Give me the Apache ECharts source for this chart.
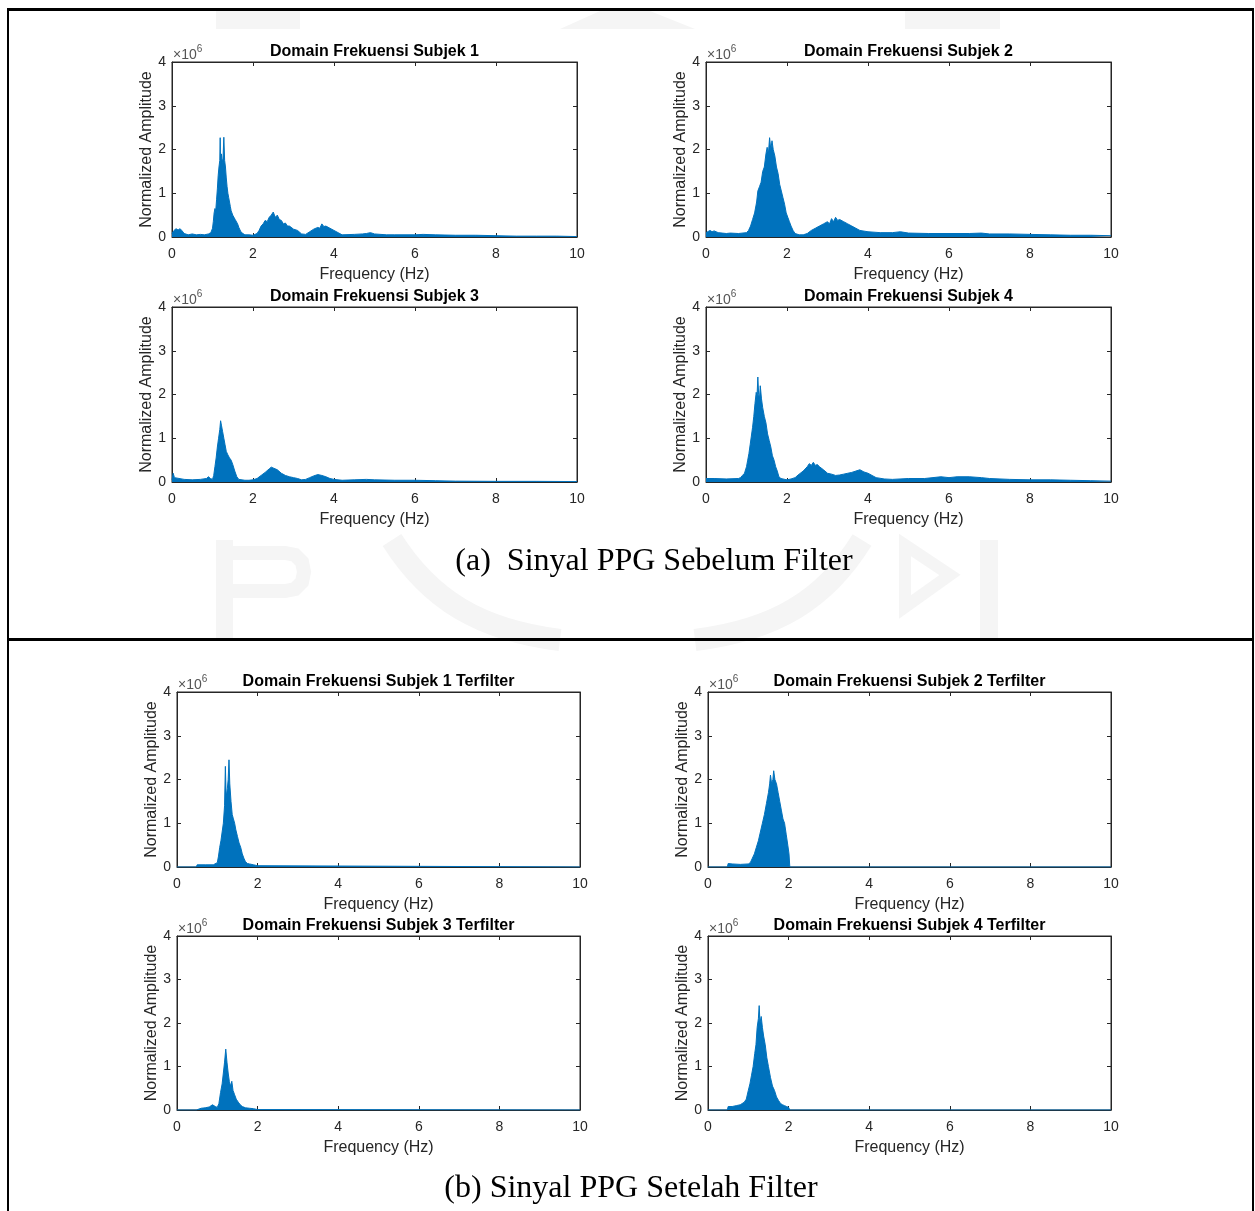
<!DOCTYPE html>
<html><head><meta charset="utf-8">
<script src="https://cdn.jsdelivr.net/npm/echarts@6/dist/echarts.min.js"></script>
<style>html,body{margin:0;padding:0;background:#fff}#c{width:1255px;height:1211px}</style>
</head><body><div id="c"></div>
<script>
// ---- data (frequency Hz, amplitude x1e6) ----
const subj1 = [[0,0.08],[0.05,0.15],[0.1,0.19],[0.15,0.16],[0.2,0.19],[0.25,0.14],[0.3,0.08],[0.4,0.05],[0.5,0.07],[0.6,0.05],[0.7,0.06],[0.8,0.05],[0.9,0.07],[0.96,0.1],[1.0,0.2],[1.02,0.35],[1.04,0.55],[1.06,0.65],[1.08,0.6],[1.1,0.85],[1.12,1.1],[1.14,1.4],[1.16,1.6],[1.18,1.75],[1.19,2.27],[1.2,1.6],[1.22,1.9],[1.24,1.7],[1.26,1.8],[1.28,2.28],[1.3,1.75],[1.32,1.6],[1.34,1.35],[1.36,1.15],[1.38,1.0],[1.4,0.9],[1.42,0.8],[1.44,0.7],[1.46,0.6],[1.48,0.55],[1.5,0.5],[1.53,0.45],[1.56,0.4],[1.59,0.38],[1.62,0.3],[1.65,0.22],[1.7,0.12],[1.75,0.08],[1.8,0.05],[1.9,0.05],[2.0,0.04],[2.1,0.08],[2.15,0.15],[2.2,0.25],[2.25,0.3],[2.3,0.38],[2.35,0.35],[2.4,0.45],[2.45,0.5],[2.5,0.57],[2.55,0.45],[2.6,0.5],[2.65,0.4],[2.7,0.38],[2.75,0.3],[2.8,0.32],[2.85,0.25],[2.9,0.25],[3.0,0.18],[3.1,0.15],[3.2,0.07],[3.3,0.06],[3.4,0.12],[3.5,0.18],[3.6,0.22],[3.65,0.2],[3.7,0.3],[3.75,0.24],[3.8,0.25],[3.9,0.2],[4.0,0.15],[4.1,0.1],[4.2,0.05],[4.5,0.06],[4.7,0.07],[4.8,0.08],[4.9,0.1],[5.0,0.07],[5.3,0.05],[5.5,0.05],[6.0,0.05],[6.2,0.06],[6.5,0.05],[7.0,0.04],[7.5,0.04],[8.0,0.03],[8.5,0.02],[9.0,0.02],[9.5,0.02],[10,0.01]];
const subj2 = [[0,0.1],[0.1,0.15],[0.15,0.12],[0.2,0.14],[0.3,0.1],[0.4,0.09],[0.5,0.08],[0.6,0.09],[0.8,0.08],[1.0,0.1],[1.05,0.15],[1.1,0.25],[1.15,0.4],[1.2,0.55],[1.25,0.8],[1.28,1.05],[1.32,1.15],[1.36,1.25],[1.4,1.5],[1.44,1.6],[1.48,1.9],[1.51,2.05],[1.54,1.9],[1.57,2.27],[1.6,2.0],[1.63,2.2],[1.66,2.0],[1.7,1.85],[1.74,1.6],[1.78,1.45],[1.82,1.2],[1.86,1.05],[1.9,0.9],[1.94,0.75],[1.98,0.55],[2.02,0.45],[2.06,0.35],[2.1,0.25],[2.15,0.15],[2.2,0.08],[2.3,0.05],[2.4,0.05],[2.5,0.08],[2.6,0.15],[2.7,0.2],[2.8,0.25],[2.9,0.3],[3.0,0.35],[3.05,0.3],[3.1,0.42],[3.15,0.35],[3.2,0.45],[3.25,0.38],[3.3,0.4],[3.4,0.35],[3.5,0.3],[3.6,0.25],[3.7,0.2],[3.8,0.15],[4.0,0.12],[4.3,0.1],[4.6,0.1],[4.8,0.12],[5.0,0.09],[5.5,0.08],[6.0,0.08],[6.5,0.08],[6.8,0.09],[7.0,0.07],[7.5,0.07],[8.0,0.06],[8.5,0.05],[9.0,0.04],[9.5,0.04],[10,0.03]];
const subj3 = [[0,0.05],[0.03,0.2],[0.06,0.1],[0.1,0.08],[0.3,0.06],[0.5,0.05],[0.7,0.06],[0.85,0.08],[0.9,0.12],[0.95,0.08],[1.0,0.06],[1.03,0.15],[1.06,0.35],[1.09,0.55],[1.12,0.8],[1.15,1.0],[1.18,1.2],[1.2,1.4],[1.22,1.3],[1.25,1.15],[1.28,1.0],[1.31,0.85],[1.34,0.7],[1.38,0.62],[1.42,0.55],[1.46,0.5],[1.5,0.4],[1.55,0.25],[1.6,0.12],[1.65,0.06],[1.8,0.04],[1.9,0.04],[2.0,0.05],[2.1,0.08],[2.2,0.15],[2.3,0.22],[2.4,0.3],[2.45,0.34],[2.5,0.32],[2.6,0.28],[2.7,0.2],[2.8,0.15],[2.9,0.12],[3.0,0.1],[3.1,0.08],[3.2,0.05],[3.3,0.06],[3.4,0.1],[3.5,0.14],[3.6,0.17],[3.7,0.15],[3.8,0.12],[3.9,0.08],[4.0,0.06],[4.2,0.04],[4.5,0.05],[4.8,0.06],[5.0,0.05],[5.5,0.04],[6.0,0.04],[6.5,0.03],[7.0,0.02],[8.0,0.015],[9.0,0.015],[10,0.01]];
const subj4 = [[0,0.08],[0.2,0.08],[0.5,0.07],[0.8,0.08],[0.85,0.1],[0.9,0.15],[0.95,0.2],[1.0,0.35],[1.03,0.5],[1.06,0.65],[1.09,0.85],[1.12,1.05],[1.15,1.25],[1.18,1.5],[1.21,1.8],[1.24,2.05],[1.26,1.95],[1.28,2.4],[1.3,2.0],[1.32,1.9],[1.34,2.2],[1.37,1.9],[1.4,1.7],[1.44,1.5],[1.48,1.35],[1.52,1.1],[1.56,0.95],[1.6,0.8],[1.64,0.6],[1.68,0.5],[1.72,0.35],[1.76,0.25],[1.8,0.12],[1.85,0.08],[1.9,0.07],[2.0,0.05],[2.1,0.07],[2.2,0.1],[2.3,0.18],[2.4,0.25],[2.5,0.35],[2.55,0.42],[2.6,0.38],[2.65,0.45],[2.7,0.38],[2.75,0.4],[2.8,0.35],[2.9,0.28],[3.0,0.2],[3.1,0.18],[3.2,0.15],[3.3,0.16],[3.4,0.18],[3.5,0.2],[3.6,0.22],[3.7,0.25],[3.8,0.28],[3.9,0.23],[4.0,0.2],[4.1,0.15],[4.2,0.1],[4.4,0.07],[4.6,0.06],[5.0,0.08],[5.4,0.08],[5.8,0.12],[6.0,0.1],[6.2,0.12],[6.5,0.12],[6.8,0.1],[7.0,0.08],[7.5,0.06],[8.0,0.05],[8.5,0.05],[9.0,0.04],[9.5,0.03],[10,0.02]];
const filt1 = [[0,0],[0.48,0],[0.5,0.05],[0.7,0.05],[0.9,0.05],[1.0,0.1],[1.03,0.25],[1.06,0.45],[1.09,0.6],[1.12,0.8],[1.15,1.0],[1.18,1.4],[1.2,2.3],[1.22,1.6],[1.25,1.8],[1.27,2.0],[1.29,2.45],[1.31,1.9],[1.34,1.5],[1.37,1.2],[1.4,1.1],[1.43,1.0],[1.46,0.85],[1.5,0.7],[1.54,0.55],[1.58,0.45],[1.62,0.3],[1.66,0.2],[1.7,0.12],[1.75,0.08],[1.8,0.07],[1.9,0.05],[2.0,0.03],[2.02,0],[10,0]];
const filt2 = [[0,0],[0.48,0],[0.5,0.08],[0.6,0.07],[0.8,0.06],[1.0,0.07],[1.05,0.1],[1.1,0.2],[1.15,0.3],[1.2,0.45],[1.25,0.6],[1.3,0.8],[1.35,1.0],[1.4,1.2],[1.45,1.45],[1.5,1.7],[1.53,1.9],[1.55,2.1],[1.58,1.9],[1.61,2.0],[1.63,2.2],[1.66,2.0],[1.7,1.9],[1.74,1.7],[1.78,1.5],[1.82,1.3],[1.86,1.1],[1.9,1.0],[1.94,0.75],[1.98,0.5],[2.01,0.3],[2.03,0],[10,0]];
const filt3 = [[0,0],[0.48,0],[0.5,0.03],[0.6,0.04],[0.7,0.05],[0.8,0.07],[0.88,0.12],[0.95,0.08],[1.0,0.06],[1.04,0.15],[1.08,0.4],[1.12,0.6],[1.15,0.85],[1.18,1.1],[1.21,1.4],[1.24,1.1],[1.27,0.85],[1.3,0.65],[1.33,0.55],[1.36,0.66],[1.39,0.45],[1.43,0.35],[1.47,0.25],[1.52,0.18],[1.57,0.12],[1.62,0.08],[1.7,0.05],[1.8,0.04],[1.9,0.03],[2.0,0.01],[2.02,0],[10,0]];
const filt4 = [[0,0],[0.48,0],[0.5,0.08],[0.6,0.08],[0.7,0.1],[0.8,0.12],[0.9,0.18],[0.95,0.25],[1.0,0.45],[1.04,0.6],[1.08,0.8],[1.12,1.0],[1.16,1.3],[1.19,1.5],[1.22,1.9],[1.25,2.1],[1.27,2.4],[1.29,2.0],[1.32,2.15],[1.35,1.9],[1.38,1.7],[1.42,1.5],[1.46,1.2],[1.5,1.0],[1.55,0.75],[1.6,0.55],[1.65,0.45],[1.7,0.3],[1.75,0.22],[1.8,0.15],[1.85,0.12],[1.9,0.1],[1.95,0.08],[2.0,0.06],[2.03,0],[10,0]];

const plotTitles = ['Domain Frekuensi Subjek 1','Domain Frekuensi Subjek 2','Domain Frekuensi Subjek 3','Domain Frekuensi Subjek 4',
  'Domain Frekuensi Subjek 1 Terfilter','Domain Frekuensi Subjek 2 Terfilter','Domain Frekuensi Subjek 3 Terfilter','Domain Frekuensi Subjek 4 Terfilter'];
const seriesData = [subj1, subj2, subj3, subj4, filt1, filt2, filt3, filt4];
const xLabel = 'Frequency (Hz)';
const yLabel = 'Normalized Amplitude';
const captionA = '(a)  Sinyal PPG Sebelum Filter';
const captionB = '(b) Sinyal PPG Setelah Filter';

// ---- layout ----
const rects = [
  {l:172,t:62,w:405,h:175},{l:706,t:62,w:405,h:175},
  {l:172,t:307,w:405,h:175},{l:706,t:307,w:405,h:175},
  {l:177,t:692,w:403,h:175},{l:708,t:692,w:403,h:175},
  {l:177,t:936,w:403,h:174},{l:708,t:936,w:403,h:174}
];
const SANS = "'Liberation Sans', Arial, Helvetica, sans-serif";
const SERIF = "'Liberation Serif', 'Times New Roman', serif";
const AX = '#262626';
const BLUE = '#0072BD';

const grid=[], xAxis=[], yAxis=[], series=[], title=[];
rects.forEach((r,i)=>{
  grid.push({left:r.l, top:r.t, width:r.w, height:r.h, show:true, backgroundColor:'#fff', borderColor:AX, borderWidth:1, containLabel:false});
  const tick = {inside:true, length:4, lineStyle:{color:AX, width:1}};
  xAxis.push({gridIndex:i, type:'value', min:0, max:10, interval:2, position:'bottom',
    axisLine:{show:true, onZero:false, lineStyle:{color:AX, width:1}}, axisTick:tick,
    axisLabel:{color:AX, fontSize:14, margin:10, fontFamily:SANS}, splitLine:{show:false},
    name:xLabel, nameLocation:'middle', nameGap:30, nameTextStyle:{color:AX, fontSize:16, fontFamily:SANS}});
  xAxis.push({gridIndex:i, type:'value', min:0, max:10, interval:2, position:'top',
    axisLine:{show:true, onZero:false, lineStyle:{color:AX, width:1}}, axisTick:tick,
    axisLabel:{show:false}, splitLine:{show:false}});
  yAxis.push({gridIndex:i, type:'value', min:0, max:4, interval:1, position:'left',
    axisLine:{show:true, onZero:false, lineStyle:{color:AX, width:1}}, axisTick:tick,
    axisLabel:{color:AX, fontSize:14, margin:6, fontFamily:SANS}, splitLine:{show:false},
    name:yLabel, nameLocation:'middle', nameGap:15, nameRotate:90, nameTextStyle:{color:AX, fontSize:16, fontFamily:SANS}});
  yAxis.push({gridIndex:i, type:'value', min:0, max:4, interval:1, position:'right',
    axisLine:{show:true, onZero:false, lineStyle:{color:AX, width:1}}, axisTick:tick,
    axisLabel:{show:false}, splitLine:{show:false}});
  series.push({type:'line', xAxisIndex:2*i, yAxisIndex:2*i, data:seriesData[i], showSymbol:false, symbol:'none',
    lineStyle:{color:BLUE, width:1}, areaStyle:{color:BLUE, opacity:1}, silent:true});
  title.push({text:plotTitles[i], left:r.l + r.w/2, top:r.t-18, textAlign:'center', padding:0,
    textStyle:{fontSize:16, fontWeight:'bold', color:'#000', fontFamily:SANS}});
  title.push({text:'{a|×10}{b|6}', left:r.l+1, top:r.t-18, padding:0,
    textStyle:{fontWeight:'normal', rich:{a:{fontSize:14, fontWeight:'normal', color:'#555', fontFamily:SANS, lineHeight:18, verticalAlign:'bottom'},
                     b:{fontSize:10, fontWeight:'normal', color:'#555', fontFamily:SANS, lineHeight:18, verticalAlign:'top'}}}});
});
title.push({text:captionA, left:654, top:546, textAlign:'center', padding:0, textStyle:{fontSize:32, fontWeight:'normal', color:'#000', fontFamily:SERIF}});
title.push({text:captionB, left:631, top:1173, textAlign:'center', padding:0, textStyle:{fontSize:32, fontWeight:'normal', color:'#000', fontFamily:SERIF}});

const WM = '#f5f5f5';
const graphic = [
  // faint watermark (logo) pieces outside the axes
  {type:'rect', z:-10, shape:{x:216, y:11, width:84, height:18}, style:{fill:WM}},
  {type:'polygon', z:-10, shape:{points:[[560,29],[600,11],[650,11],[695,29]]}, style:{fill:WM}},
  {type:'rect', z:-10, shape:{x:905, y:11, width:95, height:18}, style:{fill:WM}},
  {type:'rect', z:-10, shape:{x:216, y:540, width:17, height:98}, style:{fill:WM}},
  {type:'polyline', z:-10, shape:{points:[[233,553],[285,553],[295,555],[302,562],[304,572],[302,582],[295,589],[285,591],[233,591]]}, style:{fill:null, stroke:WM, lineWidth:14}},
  {type:'bezierCurve', z:-10, shape:{x1:392, y1:540, cpx1:430, cpy1:600, cpx2:480, cpy2:630, x2:560, y2:640}, style:{fill:null, stroke:WM, lineWidth:22}},
  {type:'bezierCurve', z:-10, shape:{x1:862, y1:540, cpx1:825, cpy1:600, cpx2:775, cpy2:630, x2:695, y2:640}, style:{fill:null, stroke:WM, lineWidth:22}},
  {type:'polygon', z:-10, shape:{points:[[905,545],[950,575],[905,607]]}, style:{fill:null, stroke:WM, lineWidth:12}},
  {type:'rect', z:-10, shape:{x:980, y:540, width:18, height:98}, style:{fill:WM}},
  // frame
  {type:'rect', z:100, shape:{x:7, y:8, width:1247, height:3}, style:{fill:'#000'}},
  {type:'rect', z:100, shape:{x:7, y:8, width:2, height:1203}, style:{fill:'#000'}},
  {type:'rect', z:100, shape:{x:1252, y:8, width:2, height:1203}, style:{fill:'#000'}},
  {type:'rect', z:100, shape:{x:7, y:638, width:1247, height:3}, style:{fill:'#000'}}
];

const chart = echarts.init(document.getElementById('c'), null, {renderer:'canvas'});
chart.setOption({animation:false, backgroundColor:'#fff', title, grid, xAxis, yAxis, series, graphic});
</script></body></html>
